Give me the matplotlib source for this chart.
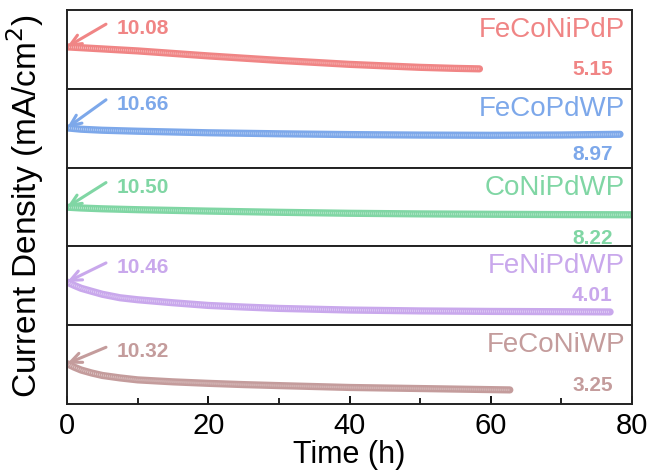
import matplotlib
matplotlib.use("Agg")
import matplotlib.pyplot as plt
from matplotlib.colors import to_rgb
import numpy as np

plt.rcParams['font.family'] = ['Liberation Sans', 'DejaVu Sans']

names = ["FeCoNiPdP", "FeCoPdWP", "CoNiPdWP", "FeNiPdWP", "FeCoNiWP"]
colors = ["#F08585", "#7DA8EA", "#80D6A4", "#C9A8EC", "#C49C9C"]
start_labels = ["10.08", "10.66", "10.50", "10.46", "10.32"]
end_labels = ["5.15", "8.97", "8.22", "4.01", "3.25"]

t1 = [0, 5, 10, 15, 20, 25, 30, 35, 40, 45, 50, 55, 58.4]
j1 = [10.08, 9.63, 9.18, 8.62, 8.06, 7.55, 7.05, 6.61, 6.16, 5.82, 5.49, 5.26, 5.15]

t2 = [0, 2, 5, 10, 20, 30, 40, 50, 60, 70, 78.3]
j2 = [10.66, 10.31, 10.04, 9.78, 9.37, 9.10, 8.89, 8.76, 8.70, 8.78, 8.97]

t3 = [0, 2, 5, 10, 20, 30, 40, 50, 60, 70, 80]
j3 = [10.50, 10.26, 10.02, 9.75, 9.33, 8.97, 8.67, 8.49, 8.37, 8.28, 8.22]

t4 = [0, 1, 2, 3.5, 5, 7.5, 10, 15, 20, 25, 30, 40, 50, 60, 70, 76.9]
j4 = [10.46, 9.75, 9.11, 8.46, 7.82, 7.07, 6.64, 5.99, 5.41, 5.07, 4.77, 4.42, 4.23, 4.12, 4.06, 4.01]

t5 = [0, 1, 2, 3.5, 5, 7.5, 10, 15, 20, 25, 30, 40, 50, 62.7]
j5 = [10.32, 9.39, 8.60, 7.80, 7.14, 6.48, 5.95, 5.42, 5.02, 4.68, 4.41, 3.91, 3.62, 3.25]

times = [t1, t2, t3, t4, t5]
dens = [j1, j2, j3, j4, j5]

# layout (per-panel y-limits and label placement)
ylims = [(0.67, 18.37), (0.13, 21.03), (-1.29, 22.41), (1.15, 18.14), (-0.54, 20.66)]
start_y = [0.76, 0.80, 0.75, 0.73, 0.66]
end_y = [0.25, 0.16, 0.10, 0.38, 0.23]

fig = plt.figure(figsize=(6.48, 4.75), dpi=100)
left, right, bottom, top = 67/648, 632/648, 1-404/475, 1-10/475
axes = fig.subplots(5, 1, sharex=True,
                    gridspec_kw=dict(hspace=0, left=left, right=right, bottom=bottom, top=top))

for i, ax in enumerate(axes):
    c = colors[i]
    light = tuple(0.55*np.array(to_rgb(c)) + 0.45)
    ax.plot(times[i], dens[i], color=c, lw=5.2, solid_capstyle='round', solid_joinstyle='round')
    ax.plot(times[i], dens[i], color=light, lw=1.6, dashes=(0.35, 0.55), dash_capstyle='butt')
    ax.set_ylim(*ylims[i])
    ax.set_xlim(0, 80)
    ax.set_yticks([])
    for s in ax.spines.values():
        s.set_linewidth(1.4)
        s.set_color('#222222')
    ax.text(0.988, 0.745, names[i], transform=ax.transAxes, ha='right', va='center',
            fontsize=20, color=c)
    ax.text(0.966, end_y[i], end_labels[i], transform=ax.transAxes, ha='right', va='center',
            fontsize=15, fontweight='bold', color=c)
    ax.text(0.088, start_y[i], start_labels[i], transform=ax.transAxes, ha='left', va='center',
            fontsize=15, fontweight='bold', color=c)
    ax.annotate('', xy=(0, dens[i][0]), xycoords='data',
                xytext=(0.069, start_y[i] + 0.06), textcoords='axes fraction',
                arrowprops=dict(arrowstyle='->,head_length=0.8,head_width=0.35', color=c, lw=2.2,
                                shrinkA=0, shrinkB=0))
    ax.tick_params(axis='x', which='both', direction='in', bottom=(i == 4), top=False,
                   labelbottom=(i == 4))

axb = axes[-1]
axb.set_xticks([0, 20, 40, 60, 80])
axb.set_xticks([10, 30, 50, 70], minor=True)
axb.tick_params(axis='x', which='major', length=6, width=1.3, labelsize=21, pad=6)
axb.tick_params(axis='x', which='minor', length=4, width=1.2)
axb.set_xlabel('Time (h)', fontsize=22, labelpad=0)

fig.text(0.038, 0.566, 'Current Density (mA/cm$^2$)', rotation=90, ha='center', va='center',
         fontsize=24)

fig.savefig('out.png', dpi=100)
